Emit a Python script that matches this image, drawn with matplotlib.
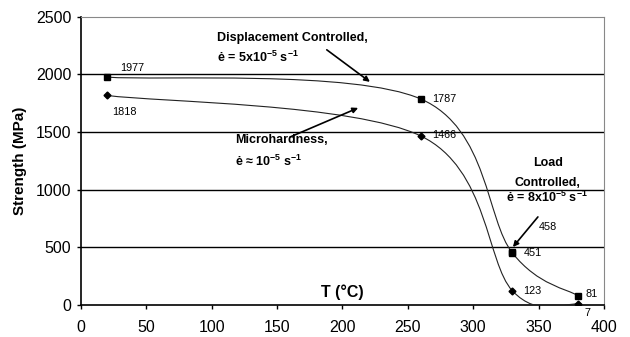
import numpy as np
import matplotlib
matplotlib.use("Agg")
import matplotlib.pyplot as plt
from matplotlib.path import Path
from matplotlib.patches import PathPatch

plt.rcParams['font.family'] = ['Liberation Sans', 'DejaVu Sans']
plt.rcParams['mathtext.fontset'] = 'custom'
plt.rcParams['mathtext.rm'] = 'Liberation Sans'
plt.rcParams['mathtext.bf'] = 'Liberation Sans:bold'

#### DATA ####
temp_disp = [20, 260, 330, 380]
str_disp = [1977, 1787, 451, 81]
temp_micro = [20, 260, 330, 380]
str_micro = [1818, 1466, 123, 7]
temp_load = [330]
str_load = [458]

# label offsets in pixels (dx, dy) for each point
off_disp = [(13, 9), (11, 0), (11, 0), (8, 2)]
off_micro = [(5, -17), (11, 1), (11, 0), (7, -9)]
off_load = [(26, 25)]


## smoothed line like a spreadsheet chart (Catmull-Rom as cubic Bezier)
def smoothPath(xs, ys):
    P = np.column_stack([xs, ys]).astype(float)
    n = len(P)
    verts = [P[0]]
    codes = [Path.MOVETO]
    for i in range(n - 1):
        p0 = P[i - 1] if i > 0 else P[i]
        p3 = P[i + 2] if i + 2 < n else P[i + 1]
        c1 = P[i] + (P[i + 1] - p0) / 6.0
        c2 = P[i + 1] - (p3 - P[i]) / 6.0
        verts += [c1, c2, P[i + 1]]
        codes += [Path.CURVE4] * 3
    return Path(verts, codes)


fig = plt.figure(figsize=(6.3, 3.37), dpi=100)
ax = fig.add_axes([0.1286, 0.095, 0.83, 0.855])

for xs, ys in [(temp_disp, str_disp), (temp_micro, str_micro)]:
    ax.add_patch(PathPatch(smoothPath(xs, ys), facecolor='none',
                           edgecolor='#222222', lw=0.8, zorder=3))

ax.plot(temp_disp, str_disp, 's', color='black', ms=4.5, zorder=4)
ax.plot(temp_load, str_load, 's', color='black', ms=4.5, zorder=4)
ax.plot(temp_micro, str_micro, 'D', color='black', ms=3.5, zorder=4)

for xs, ys, offs in [(temp_disp, str_disp, off_disp),
                     (temp_micro, str_micro, off_micro),
                     (temp_load, str_load, off_load)]:
    for x, y, o in zip(xs, ys, offs):
        ax.annotate(str(y), (x, y), xytext=o, textcoords='offset pixels',
                    ha='left', va='center', fontsize=7.8)

ax.set_xlim(0, 400)
ax.set_ylim(0, 2500)
ax.set_xticks(np.arange(0, 401, 50))
ax.set_yticks(np.arange(0, 2501, 500))
ax.tick_params(labelsize=11.5, length=3, width=1)
ax.tick_params(axis='x', pad=8)
ax.tick_params(axis='y', pad=4)
for y in [500, 1000, 1500, 2000]:
    ax.axhline(y, color='black', lw=1, zorder=1)
ax.spines['top'].set_color('#888888')
ax.spines['right'].set_color('#888888')
ax.spines['left'].set_linewidth(1.2)
ax.spines['bottom'].set_linewidth(1.2)

ax.set_ylabel('Strength (MPa)', fontsize=11, fontweight='bold', labelpad=6)
ax.text(200, 110, 'T (°C)', fontsize=11.5, fontweight='bold', ha='center', va='center')

# annotations
bold = dict(fontsize=9, fontweight='bold', va='center')
ax.text(104, 2318, 'Displacement Controlled,', ha='left', **bold)
ax.text(104, 2144, r'ė = 5x10$^{\mathbf{-5}}$ s$^{\mathbf{-1}}$', ha='left', **bold)
ax.text(118, 1432, 'Microhardness,', ha='left', **bold)
ax.text(118, 1250, r'ė ≈ 10$^{\mathbf{-5}}$ s$^{\mathbf{-1}}$', ha='left', **bold)
ax.text(357, 1233, 'Load', ha='center', **bold)
ax.text(357, 1059, 'Controlled,', ha='center', **bold)
ax.text(356, 937, r'ė = 8x10$^{\mathbf{-5}}$ s$^{\mathbf{-1}}$', ha='center', **bold)

arr = dict(arrowstyle='-|>', color='black', lw=1.2, mutation_scale=8,
           shrinkA=0, shrinkB=0)
ax.annotate('', xy=(221, 1936), xytext=(188, 2214), arrowprops=arr)
ax.annotate('', xy=(212, 1710), xytext=(160, 1458), arrowprops=arr)
ax.annotate('', xy=(330.4, 503), xytext=(349.5, 764), arrowprops=arr)

fig.savefig('out.png', dpi=100)
